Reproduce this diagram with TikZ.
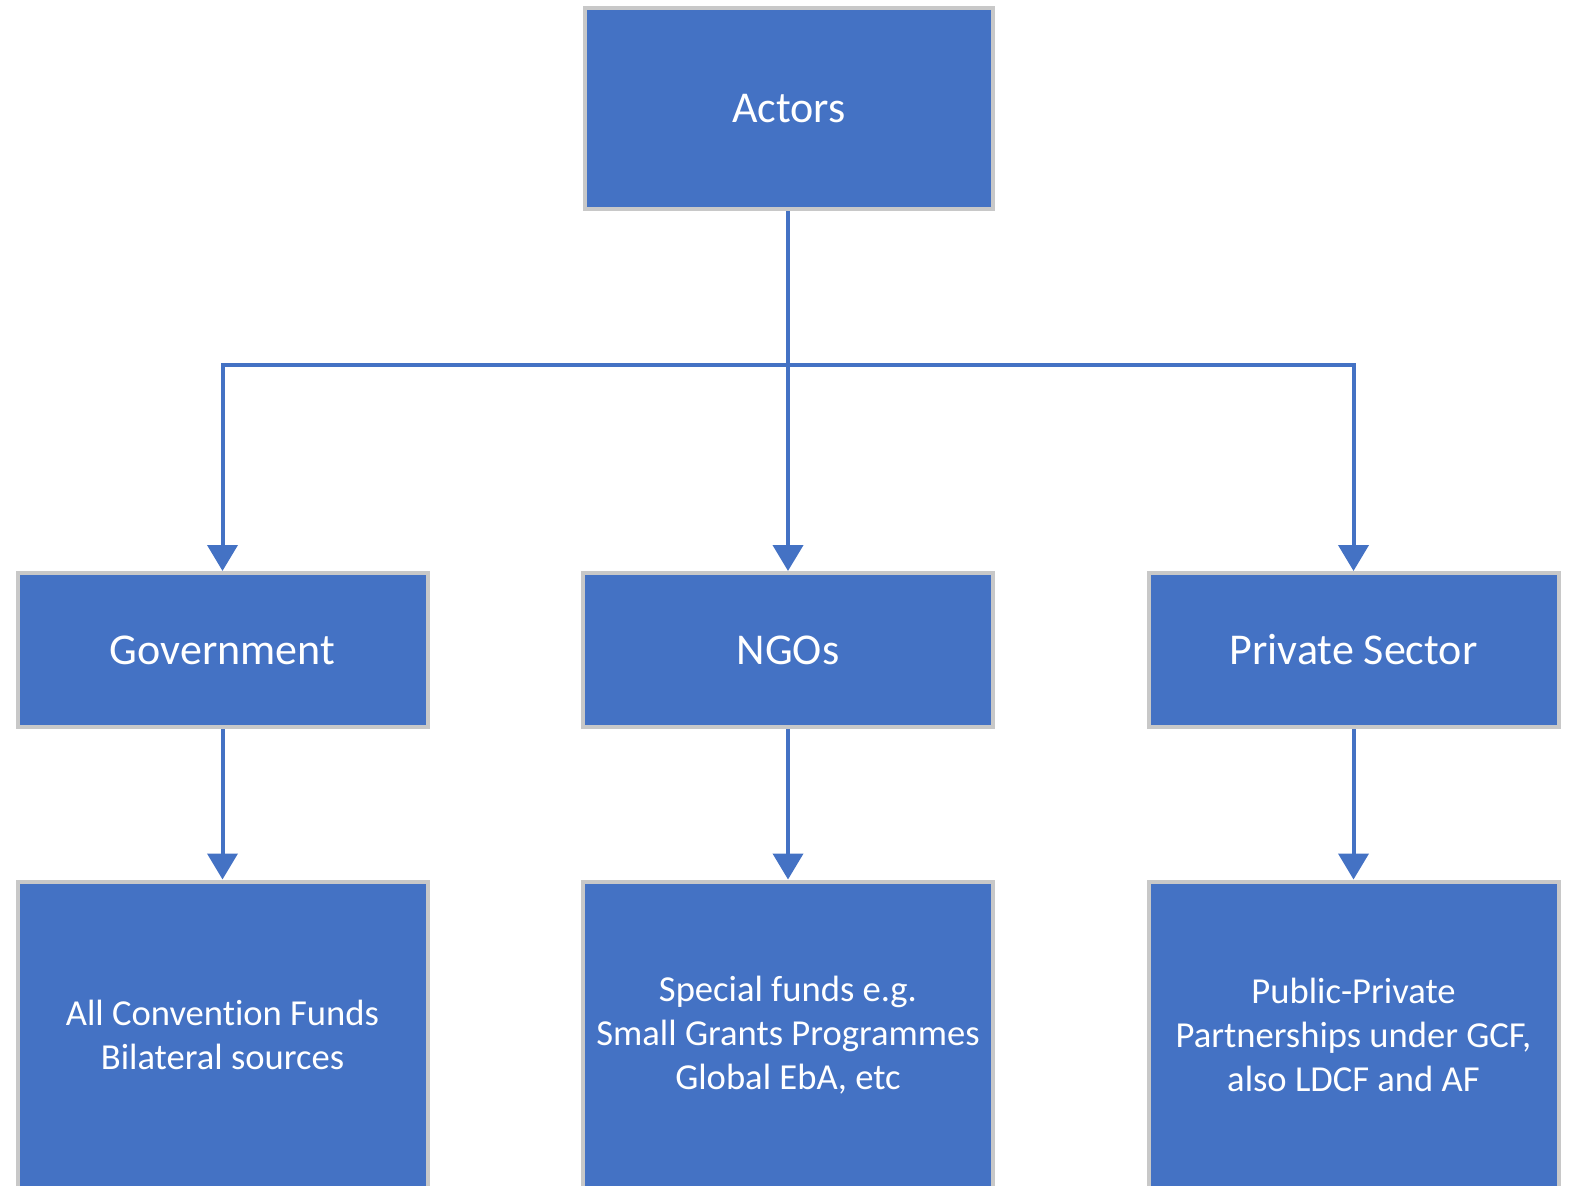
\documentclass[tikz,border=0pt]{standalone}
\usepackage{fontspec}
\setmainfont{Carlito}[Ligatures=NoCommon]
\usetikzlibrary{arrows.meta}
\definecolor{boxblue}{HTML}{4472C4}
\definecolor{boxgray}{HTML}{C8C8C8}

\begin{document}
\begin{tikzpicture}[x=0.5pt,y=-0.5pt,
	actor/.style={draw=boxgray,line width=2pt,fill=boxblue,text=white,inner sep=0pt,
		minimum width=205pt,minimum height=77pt,font=\fontsize{22}{26}\selectfont},
	fund/.style={actor,minimum height=153.5pt,align=center,font=\fontsize{18.3}{22}\selectfont},
	link/.style={boxblue,line width=2pt,-{Triangle[width=15pt,length=13pt]}}]
	\useasboundingbox (0,0) rectangle (1569,1185);
	\clip (0,0) rectangle (1569,1185);
	% top
	\node[actor,minimum width=204pt,minimum height=100.5pt] (actors) at (789,108.5) {Actors};
	% middle row
	\node[actor] (gov) at (222.5,650) {Government};
	\node[actor] (ngo) at (788,650) {NGOs};
	\node[actor] (priv) at (1353.5,650) {Private Sector};
	% bottom row, cut off by the page
	\node[fund] (govfund) at (222.5,1035) {All Convention Funds\\Bilateral sources};
	\node[fund] (ngofund) at (788,1035) {Special funds e.g.\\Small Grants Programmes\\Global EbA, etc};
	\node[fund] (privfund) at (1353.5,1035) {Public-Private\\Partnerships under GCF,\\also LDCF and AF};
	% connectors
	\coordinate (split) at (788,365);
	\draw[link] (actors.south -| ngo) -- (ngo);
	\draw[link] (split) -| (gov);
	\draw[link] (split) -| (priv);
	\foreach \a/\b in {gov/govfund,ngo/ngofund,priv/privfund}{
		\draw[link] (\a) -- (\b);}
\end{tikzpicture}
\end{document}
